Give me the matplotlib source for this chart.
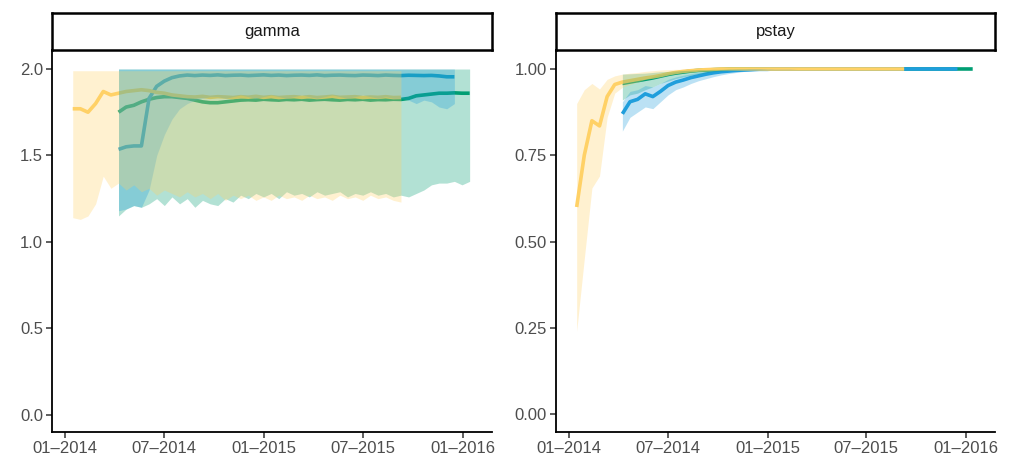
import pandas as pd
import matplotlib.pyplot as plt
import matplotlib.dates as mdates

plt.rcParams['font.family'] = ['Liberation Sans', 'DejaVu Sans']

# colours per model
c_yellow = '#FFD166'
c_blue = '#1F9EDC'
c_green = '#009E73'

# ---- gamma ----
yellow_gamma = [1.77, 1.77, 1.75, 1.80, 1.87, 1.85, 1.86, 1.87, 1.875, 1.88,
                1.875, 1.865, 1.86, 1.85, 1.845, 1.84, 1.838, 1.842, 1.836, 1.84,
                1.838, 1.835, 1.84, 1.837, 1.842, 1.836, 1.84, 1.835, 1.838, 1.84,
                1.836, 1.84, 1.835, 1.838, 1.842, 1.836, 1.838, 1.84, 1.835, 1.838,
                1.836, 1.84, 1.835, 1.836]
yellow_gamma_lo = [1.14, 1.13, 1.15, 1.22, 1.38, 1.31, 1.34, 1.30, 1.33, 1.29,
                   1.31, 1.27, 1.30, 1.28, 1.26, 1.29, 1.26, 1.28, 1.25, 1.28,
                   1.24, 1.27, 1.25, 1.27, 1.24, 1.26, 1.24, 1.27, 1.25, 1.26,
                   1.24, 1.27, 1.25, 1.26, 1.24, 1.27, 1.25, 1.26, 1.24, 1.27,
                   1.25, 1.26, 1.24, 1.23]
yellow_gamma_hi = [1.99] * 44

blue_gamma = [1.535, 1.55, 1.555, 1.555, 1.83, 1.90, 1.93, 1.95, 1.96, 1.965,
              1.962, 1.965, 1.963, 1.966, 1.962, 1.964, 1.965, 1.962, 1.964, 1.966,
              1.963, 1.965, 1.962, 1.964, 1.965, 1.963, 1.966, 1.962, 1.964, 1.965,
              1.963, 1.962, 1.965, 1.964, 1.962, 1.965, 1.963, 1.962, 1.964, 1.963,
              1.962, 1.963, 1.96, 1.955, 1.955]
blue_gamma_lo = [1.18, 1.19, 1.21, 1.20, 1.30, 1.50, 1.62, 1.71, 1.77, 1.80,
                 1.82, 1.83, 1.84, 1.84, 1.83, 1.84, 1.85, 1.84, 1.83, 1.84,
                 1.85, 1.84, 1.83, 1.84, 1.85, 1.84, 1.83, 1.84, 1.85, 1.84,
                 1.83, 1.84, 1.85, 1.84, 1.83, 1.84, 1.83, 1.83, 1.82, 1.80,
                 1.82, 1.81, 1.78, 1.77, 1.80]
blue_gamma_hi = [2.0] * 45

green_gamma = [1.75, 1.78, 1.79, 1.81, 1.825, 1.835, 1.84, 1.84, 1.835, 1.83,
               1.82, 1.81, 1.805, 1.805, 1.81, 1.815, 1.82, 1.822, 1.82, 1.825,
               1.822, 1.82, 1.824, 1.822, 1.825, 1.82, 1.823, 1.825, 1.822, 1.82,
               1.824, 1.822, 1.825, 1.82, 1.823, 1.822, 1.825, 1.824, 1.83, 1.845,
               1.85, 1.855, 1.86, 1.86, 1.862, 1.86, 1.86]
green_gamma_lo = [1.15, 1.19, 1.21, 1.20, 1.22, 1.25, 1.21, 1.26, 1.22, 1.25,
                  1.20, 1.24, 1.22, 1.21, 1.25, 1.23, 1.27, 1.25, 1.28, 1.26,
                  1.28, 1.25, 1.29, 1.27, 1.28, 1.26, 1.29, 1.27, 1.28, 1.29,
                  1.26, 1.28, 1.27, 1.29, 1.27, 1.28, 1.26, 1.27, 1.26, 1.28,
                  1.30, 1.33, 1.34, 1.34, 1.35, 1.33, 1.35]
green_gamma_hi = [2.0] * 47

# ---- pstay ----
yellow_pstay = [0.60, 0.75, 0.85, 0.835, 0.92, 0.955, 0.962, 0.966, 0.97, 0.974,
                0.977, 0.981, 0.986, 0.99, 0.993, 0.995, 0.997, 0.998, 0.999, 1.0,
                1.0, 1.0, 1.0, 1.0, 1.0, 1.0, 1.0, 1.0, 1.0, 1.0,
                1.0, 1.0, 1.0, 1.0, 1.0, 1.0, 1.0, 1.0, 1.0, 1.0,
                1.0, 1.0, 1.0, 1.0]
yellow_pstay_lo = [0.24, 0.45, 0.655, 0.69, 0.86, 0.93, 0.947, 0.955, 0.962, 0.97,
                   0.978, 0.984, 0.988, 0.992, 0.995, 0.997, 0.998, 0.999, 0.999, 0.999,
                   1.0, 1.0, 1.0, 1.0, 1.0, 1.0, 1.0, 1.0, 1.0, 1.0,
                   1.0, 1.0, 1.0, 1.0, 1.0, 1.0, 1.0, 1.0, 1.0, 1.0,
                   1.0, 1.0, 1.0, 1.0]
yellow_pstay_hi = [0.90, 0.94, 0.958, 0.942, 0.97, 0.98, 0.985, 0.988, 0.99, 0.993,
                   0.995, 0.997, 0.998, 0.999, 0.999, 1.0, 1.0, 1.0, 1.0, 1.0,
                   1.0, 1.0, 1.0, 1.0, 1.0, 1.0, 1.0, 1.0, 1.0, 1.0,
                   1.0, 1.0, 1.0, 1.0, 1.0, 1.0, 1.0, 1.0, 1.0, 1.0,
                   1.0, 1.0, 1.0, 1.0]

blue_pstay = [0.87, 0.905, 0.912, 0.928, 0.92, 0.935, 0.952, 0.962, 0.968, 0.975,
              0.98, 0.985, 0.989, 0.992, 0.994, 0.996, 0.997, 0.998, 0.999, 0.999,
              1.0, 1.0, 1.0, 1.0, 1.0, 1.0, 1.0, 1.0, 1.0, 1.0,
              1.0, 1.0, 1.0, 1.0, 1.0, 1.0, 1.0, 1.0, 1.0, 1.0,
              1.0, 1.0, 1.0, 1.0, 1.0]
blue_pstay_lo = [0.82, 0.86, 0.875, 0.89, 0.885, 0.905, 0.925, 0.94, 0.948, 0.958,
                 0.966, 0.972, 0.978, 0.983, 0.987, 0.99, 0.993, 0.995, 0.997, 0.998,
                 0.999, 0.999, 0.999, 1.0, 1.0, 1.0, 1.0, 1.0, 1.0, 1.0,
                 1.0, 1.0, 1.0, 1.0, 1.0, 1.0, 1.0, 1.0, 1.0, 1.0,
                 1.0, 1.0, 1.0, 1.0, 1.0]
blue_pstay_hi = [0.905, 0.935, 0.94, 0.952, 0.948, 0.958, 0.97, 0.977, 0.982, 0.986,
                 0.99, 0.993, 0.995, 0.997, 0.998, 0.999, 0.999, 1.0, 1.0, 1.0,
                 1.0, 1.0, 1.0, 1.0, 1.0, 1.0, 1.0, 1.0, 1.0, 1.0,
                 1.0, 1.0, 1.0, 1.0, 1.0, 1.0, 1.0, 1.0, 1.0, 1.0,
                 1.0, 1.0, 1.0, 1.0, 1.0]

green_pstay = [0.958, 0.962, 0.966, 0.97, 0.974, 0.979, 0.984, 0.988, 0.991, 0.994,
               0.996, 0.997, 0.998, 0.999, 1.0, 1.0, 1.0, 1.0, 1.0, 1.0,
               1.0, 1.0, 1.0, 1.0, 1.0, 1.0, 1.0, 1.0, 1.0, 1.0,
               1.0, 1.0, 1.0, 1.0, 1.0, 1.0, 1.0, 1.0, 1.0, 1.0,
               1.0, 1.0, 1.0, 1.0, 1.0, 1.0, 1.0]
green_pstay_lo = [0.91, 0.925, 0.93, 0.94, 0.948, 0.958, 0.965, 0.972, 0.977, 0.982,
                  0.986, 0.989, 0.992, 0.994, 0.996, 0.997, 0.998, 0.999, 0.999, 1.0,
                  1.0, 1.0, 1.0, 1.0, 1.0, 1.0, 1.0, 1.0, 1.0, 1.0,
                  1.0, 1.0, 1.0, 1.0, 1.0, 1.0, 1.0, 1.0, 1.0, 1.0,
                  1.0, 1.0, 1.0, 1.0, 1.0, 1.0, 1.0]
green_pstay_hi = [0.985, 0.986, 0.987, 0.988, 0.99, 0.992, 0.993, 0.995, 0.996, 0.997,
                  0.998, 0.998, 0.999, 0.999, 1.0, 1.0, 1.0, 1.0, 1.0, 1.0,
                  1.0, 1.0, 1.0, 1.0, 1.0, 1.0, 1.0, 1.0, 1.0, 1.0,
                  1.0, 1.0, 1.0, 1.0, 1.0, 1.0, 1.0, 1.0, 1.0, 1.0,
                  1.0, 1.0, 1.0, 1.0, 1.0, 1.0, 1.0]

yellow_dates = pd.date_range('2014-01-15', periods=len(yellow_gamma), freq='14D')
blue_dates = pd.date_range('2014-04-09', periods=len(blue_gamma), freq='14D')
green_dates = pd.date_range('2014-04-09', periods=len(green_gamma), freq='14D')

panels = [
    ('gamma', [0.0, 0.5, 1.0, 1.5, 2.0], ['0.0', '0.5', '1.0', '1.5', '2.0'], (-0.1, 2.11),
     [(green_dates, green_gamma, green_gamma_lo, green_gamma_hi, c_green),
      (blue_dates, blue_gamma, blue_gamma_lo, blue_gamma_hi, c_blue),
      (yellow_dates, yellow_gamma, yellow_gamma_lo, yellow_gamma_hi, c_yellow)]),
    ('pstay', [0.0, 0.25, 0.5, 0.75, 1.0], ['0.00', '0.25', '0.50', '0.75', '1.00'], (-0.052, 1.055),
     [(green_dates, green_pstay, green_pstay_lo, green_pstay_hi, c_green),
      (blue_dates, blue_pstay, blue_pstay_lo, blue_pstay_hi, c_blue),
      (yellow_dates, yellow_pstay, yellow_pstay_lo, yellow_pstay_hi, c_yellow)]),
]

W, H = 1010, 462
fig = plt.figure(figsize=(W / 100, H / 100), dpi=100)

x_lo = pd.Timestamp('2013-12-08')
x_hi = pd.Timestamp('2016-02-23')
xticks = pd.to_datetime(['2014-01-01', '2014-07-01', '2015-01-01', '2015-07-01', '2016-01-01'])

lefts = [52, 556]
widths = [440, 439]
for (name, yt, ytl, ylim, series), left, width in zip(panels, lefts, widths):
    ax = fig.add_axes([left / W, 30 / H, width / W, 382 / H])
    # all lines first, then all ribbons on top (ribbons tint the lines)
    for i, (d, m, lo, hi, col) in enumerate(series):
        ax.plot(d, m, color=col, linewidth=2.6, solid_capstyle='butt',
                solid_joinstyle='round', zorder=1 + i)
        ax.fill_between(d, lo, hi, color=col, alpha=0.3, linewidth=0, zorder=5 + i)
    ax.set_xlim(x_lo, x_hi)
    ax.set_ylim(*ylim)
    ax.set_xticks(xticks)
    ax.xaxis.set_major_formatter(mdates.DateFormatter('%m\u2013%Y'))
    ax.set_yticks(yt)
    ax.set_yticklabels(ytl)
    for s in ['top', 'right']:
        ax.spines[s].set_visible(False)
    for s in ['left', 'bottom']:
        ax.spines[s].set_linewidth(1.3)
        ax.spines[s].set_color('black')
        ax.spines[s].set_zorder(20)
    ax.tick_params(length=4, width=1.1, color='#333333', labelcolor='#4D4D4D',
                   labelsize=12, pad=2.5)

    # facet strip
    sax = fig.add_axes([left / W, (H - 50) / H, width / W, 37 / H])
    sax.set_xticks([])
    sax.set_yticks([])
    for s in sax.spines.values():
        s.set_linewidth(1.8)
        s.set_color('black')
    sax.text(0.5, 0.5, name, ha='center', va='center', fontsize=12, color='#1A1A1A',
             transform=sax.transAxes)

fig.savefig('out.png', dpi=100)
